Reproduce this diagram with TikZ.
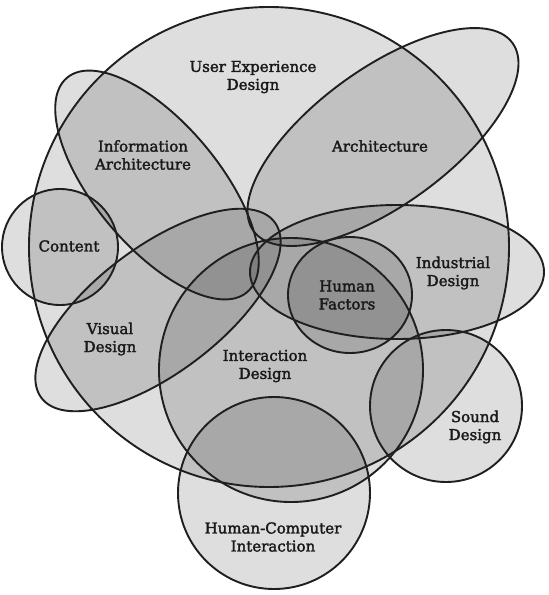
\documentclass[tikz,border=0pt]{standalone}
\usepackage{fontspec}
\setmainfont{DejaVu Serif}
\newfontfamily\lblfont{DejaVu Serif}[FakeBold=2]
\begin{document}
\begin{tikzpicture}[x=1pt,y=-1pt,
  venfill/.style={fill=black, fill opacity=0.13, draw=none},
  venline/.style={draw=black!88, line width=1.9pt},
  lbl/.style={align=center, font=\lblfont\fontsize{15}{18}\selectfont, text=black!90, inner sep=0pt}]
\useasboundingbox (0,0) rectangle (549,595);
\fill[white] (0,0) rectangle (549,595);
\newcommand\vennpaths[1]{%
  \path[#1] (269,247) circle [radius=240pt];
  \path[#1, rotate around={-50:(157,185)}] (157,185) ellipse [x radius=140pt, y radius=62pt];
  \path[#1, rotate around={36:(383,137)}] (383,137) ellipse [x radius=160pt, y radius=68pt];
  \path[#1] (60,247) circle [radius=58pt];
  \path[#1, rotate around={37:(158,310)}] (158,310) ellipse [x radius=146pt, y radius=63pt];
  \path[#1] (397,272) ellipse [x radius=147pt, y radius=67pt];
  \path[#1] (350,295) ellipse [x radius=62pt, y radius=58pt];
  \path[#1] (291,370) circle [radius=132pt];
  \path[#1] (446,406) circle [radius=76pt];
  \path[#1] (274,493) circle [radius=96pt];
}
\vennpaths{venfill}
\vennpaths{venline}
\node[lbl] (ux) at (253,77) {User Experience\\Design};
\node[lbl] (ia) at (143,155) {Information\\Architecture};
\node[lbl] (arch) at (380,146) {Architecture};
\node[lbl] (content) at (69,246) {Content};
\node[lbl] (ind) at (453,273) {Industrial\\Design};
\node[lbl] (hf) at (347,295) {Human\\Factors};
\node[lbl] (vis) at (110,339) {Visual\\Design};
\node[lbl] (ixd) at (265,366) {Interaction\\Design};
\node[lbl] (sound) at (475,427) {Sound\\Design};
\node[lbl] (hci) at (273,537) {Human-Computer\\Interaction};
\end{tikzpicture}
\end{document}
